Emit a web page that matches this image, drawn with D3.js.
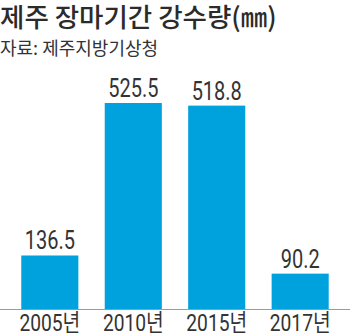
<!DOCTYPE html>
<html>
<head>
<meta charset="utf-8">
<script src="https://cdn.jsdelivr.net/npm/d3@7/dist/d3.min.js"></script>
<style>
  html, body { margin: 0; padding: 0; background: #fff; }
  svg { display: block; }
</style>
</head>
<body>
<svg id="chart" width="350" height="336"></svg>
<script>
// Rainy-season precipitation in Jeju (mm)
const years = ["2005년", "2010년", "2015년", "2017년"];
const rainfall = [136.5, 525.5, 518.8, 90.2];
const valueLabels = ["136.5", "525.5", "518.8", "90.2"];

const titleText = "제주 장마기간 강수량(㎜)";
const sourceText = "자료: 제주지방기상청";

const W = 350, H = 336;
const baseline = 309;
const condense = 0.8; // horizontal squeeze for the narrow numeric type

const svg = d3.select("#chart");

const x = d3.scaleBand()
  .domain(years)
  .range([0, W])
  .paddingInner(0.316)
  .paddingOuter(0.255);

const y = d3.scaleLinear()
  .domain([0, 525.5])
  .range([baseline, 103]);

const data = years.map((yr, i) => ({ year: yr, value: rainfall[i], label: valueLabels[i] }));

const numFont = "'Roboto', 'Noto Sans CJK KR', sans-serif";

// title and source
svg.append("text")
  .attr("x", 0).attr("y", 27)
  .attr("font-family", "'Noto Sans CJK KR', sans-serif")
  .attr("font-weight", 500)
  .attr("font-size", 26.5)
  .attr("fill", "#2b2b2b")
  .text(titleText);

svg.append("text")
  .attr("x", 0).attr("y", 55)
  .attr("font-family", "'Noto Sans CJK KR', sans-serif")
  .attr("font-size", 18)
  .attr("fill", "#333")
  .text(sourceText);

// bars
svg.selectAll("rect.bar")
  .data(data)
  .join("rect")
  .attr("class", "bar")
  .attr("x", d => x(d.year))
  .attr("width", x.bandwidth())
  .attr("y", d => y(d.value))
  .attr("height", d => baseline - y(d.value))
  .attr("fill", "#00a2dd");

// baseline
svg.append("line")
  .attr("x1", 0).attr("x2", W)
  .attr("y1", baseline + 0.5).attr("y2", baseline + 0.5)
  .attr("stroke", "#9a9a9a")
  .attr("stroke-width", 1);

// value labels
svg.selectAll("text.val")
  .data(data)
  .join("text")
  .attr("class", "val")
  .attr("transform", d => `translate(${x(d.year) + x.bandwidth() / 2},${y(d.value) - 6}) scale(${condense},1)`)
  .attr("text-anchor", "middle")
  .attr("font-family", numFont)
  .attr("font-size", 25)
  .attr("fill", "#333")
  .text(d => d.label);

// category labels
const xAxis = d3.axisBottom(x).tickSize(0).tickPadding(0);
const gx = svg.append("g")
  .attr("transform", `translate(0,${baseline})`)
  .call(xAxis);
gx.select(".domain").remove();
gx.selectAll("text")
  .attr("dy", 0)
  .attr("y", 0)
  .attr("transform", `translate(0,22) scale(${condense},1)`)
  .attr("font-family", numFont)
  .attr("font-size", 24)
  .attr("fill", "#333");
</script>
</body>
</html>
